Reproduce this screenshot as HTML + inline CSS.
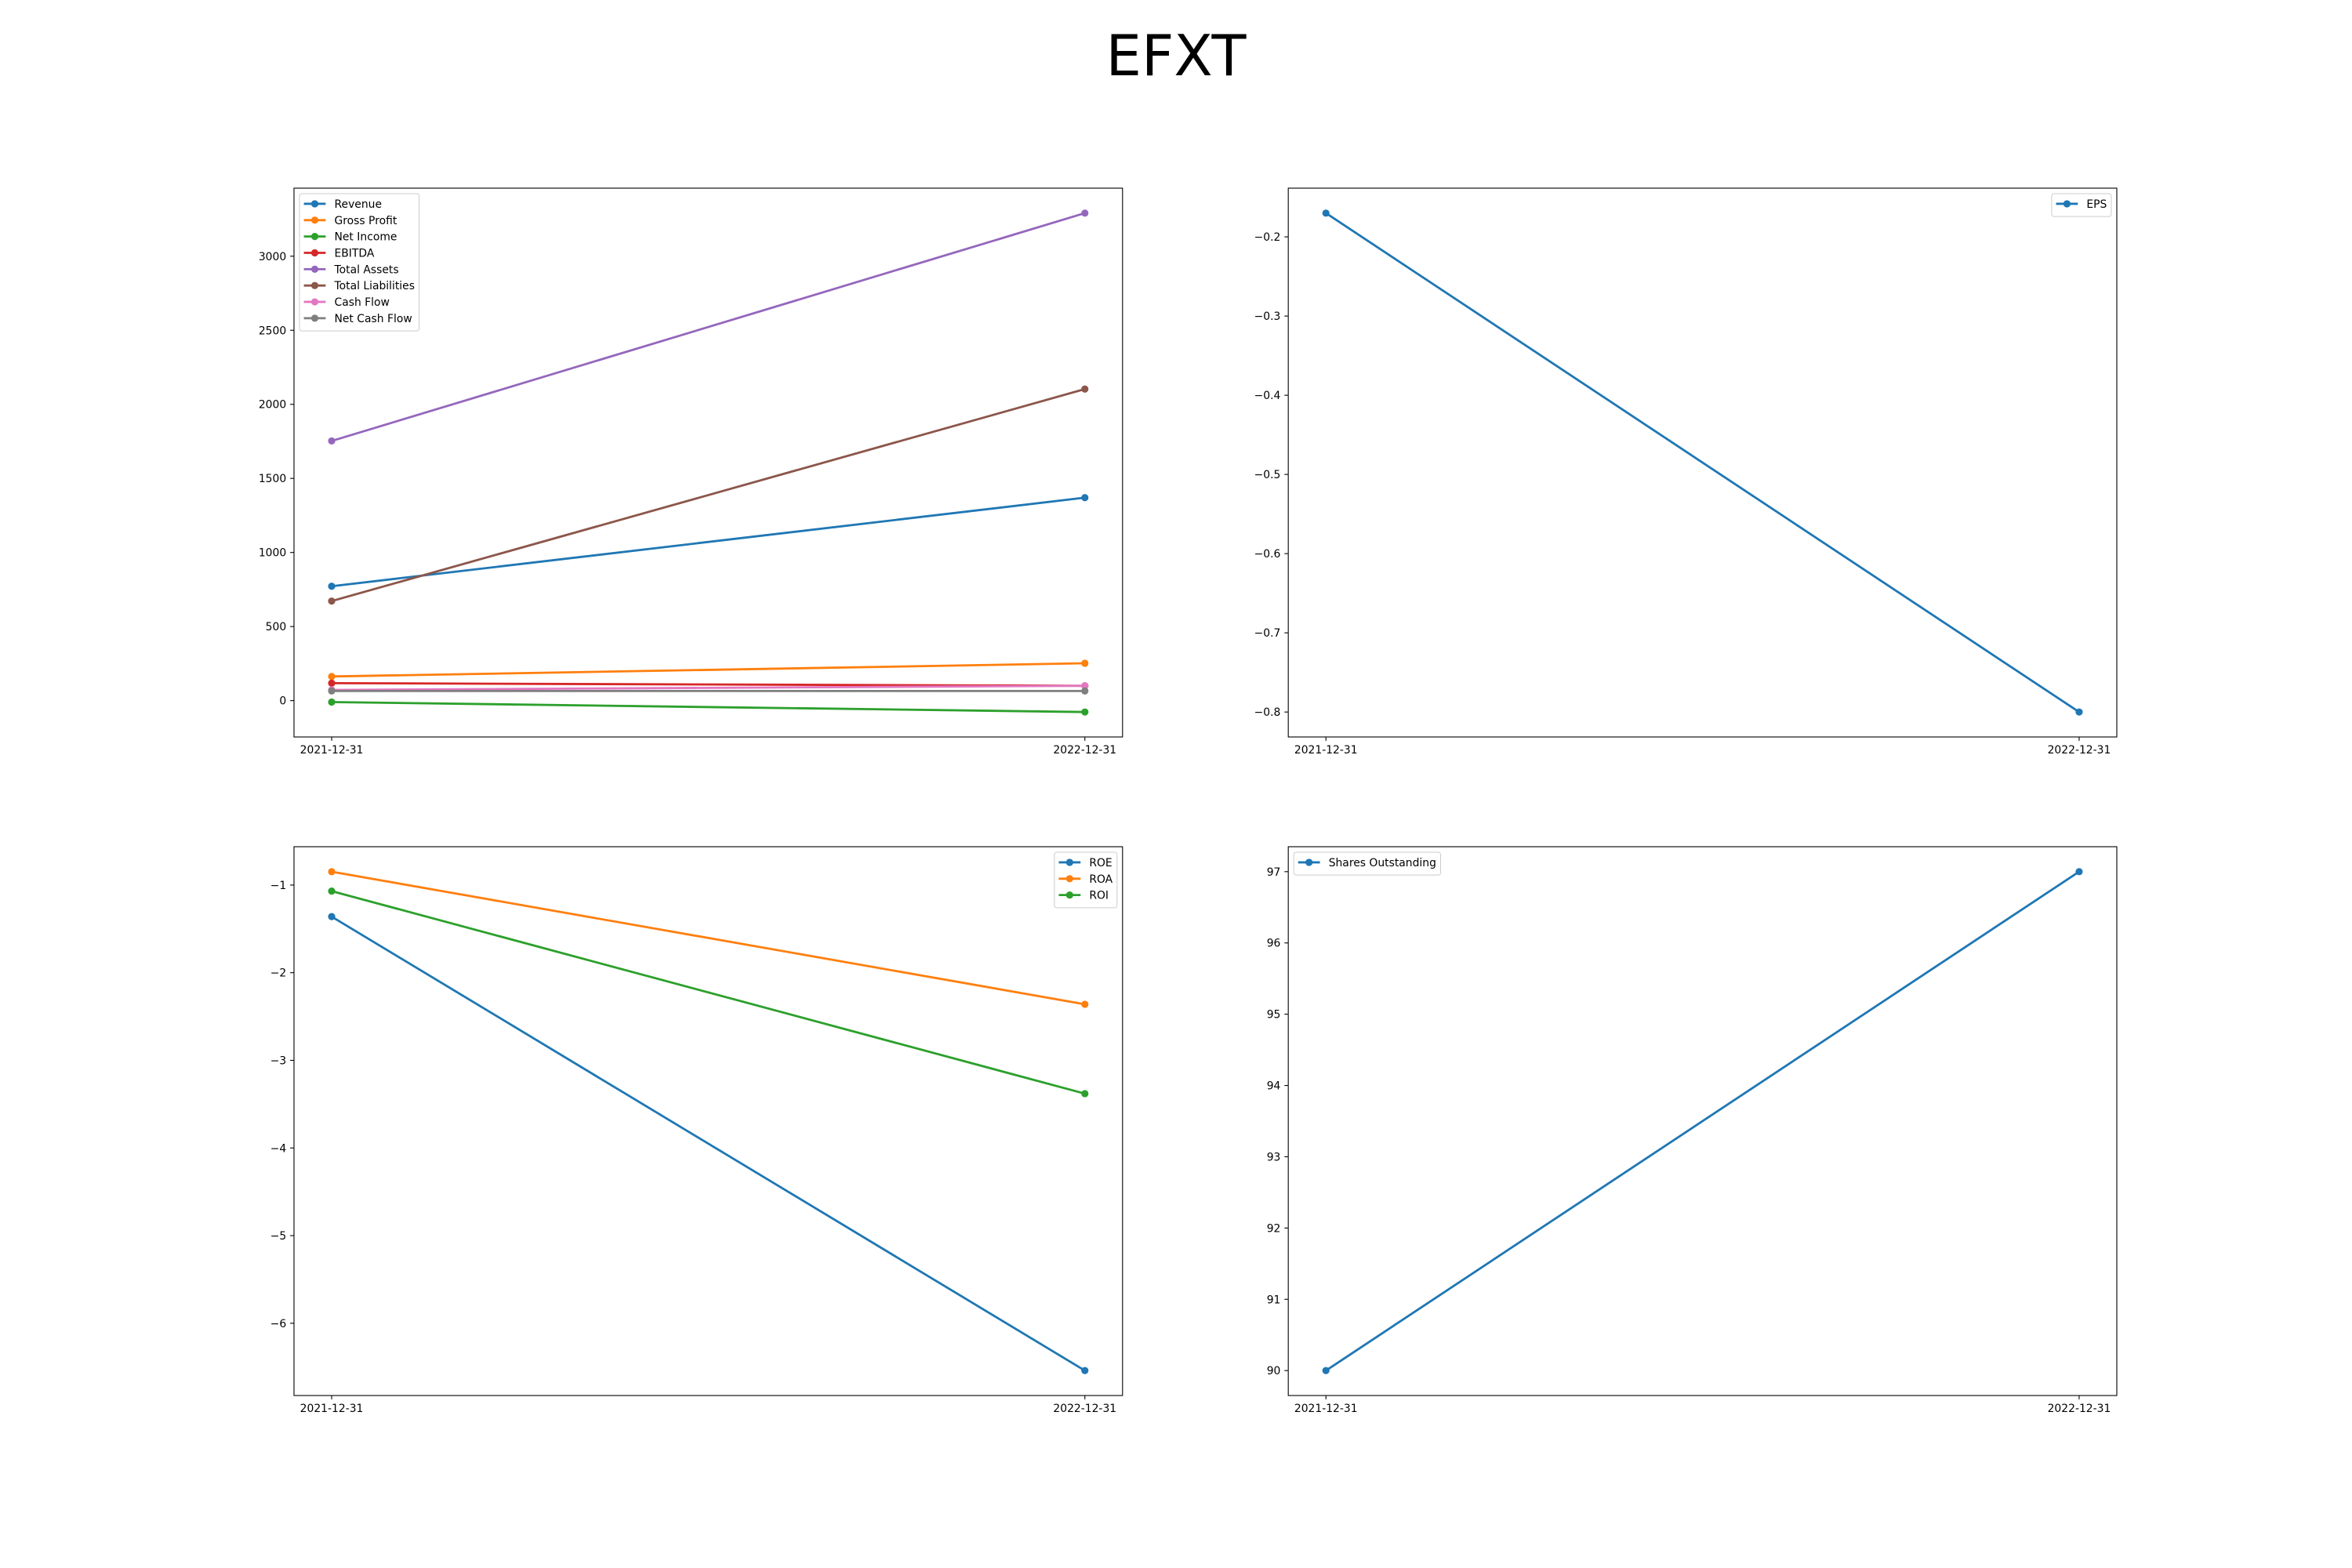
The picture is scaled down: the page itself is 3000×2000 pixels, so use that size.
<!DOCTYPE html>
<html><head><meta charset="utf-8"><style>
html,body{margin:0;padding:0;background:#fff}
svg{display:block;font-family:"DejaVu Sans","Liberation Sans",sans-serif}
</style></head><body>
<svg id="fig" width="3000" height="2000" viewBox="0 0 3000 2000" xmlns="http://www.w3.org/2000/svg">
<rect width="3000" height="2000" fill="#fff"/>
<text x="1500" y="96" font-size="72" text-anchor="middle" fill="#000">EFXT</text>
</svg>
<script>
const dates = ["2021-12-31", "2022-12-31"];
const revenue = [772, 1370];
const grossProfit = [163, 252];
const netIncome = [-10, -77];
const ebitda = [118, 100];
const totalAssets = [1753, 3291];
const totalLiabilities = [672, 2103];
const cashFlow = [72, 100];
const netCashFlow = [65, 65];
const eps = [-0.17, -0.80];
const roe = [-1.36, -6.54];
const roa = [-0.847, -2.36];
const roi = [-1.069, -3.38];
const shares = [90, 97];
const ticksTL = [0, 500, 1000, 1500, 2000, 2500, 3000];
const ticksTR = [-0.8, -0.7, -0.6, -0.5, -0.4, -0.3, -0.2];
const ticksBL = [-6, -5, -4, -3, -2, -1];
const ticksBR = [90, 91, 92, 93, 94, 95, 96, 97];

const NS = "http://www.w3.org/2000/svg";
const svg = document.getElementById("fig");
function mk(tag, attrs, parent) {
  const e = document.createElementNS(NS, tag);
  for (const k in attrs) e.setAttribute(k, attrs[k]);
  (parent || svg).appendChild(e);
  return e;
}
function fmt(v) {
  let s = (Math.abs(v) < 1e-9 ? 0 : v).toString();
  return s.replace("-", "\u2212");
}
function panel(name, box, series, ticks, legendPos) {
  const g = mk("g", {});
  
  
  let all = [];
  series.forEach(s => all = all.concat(s.v));
  const mn = Math.min(...all), mx = Math.max(...all);
  const pad = (mx - mn) * 0.05;
  const y0 = mn - pad, y1 = mx + pad;
  const n = dates.length;
  const xs = i => box.x + box.w * ((i + 0.05 * (n - 1)) / ((n - 1) * 1.1));
  const ys = v => box.y + box.h * (y1 - v) / (y1 - y0);
  ticks.forEach(t => {
    const y = ys(t);
    const l = mk("line", {x1: box.x - 4.9, x2: box.x, y1: y, y2: y, stroke: "#000", "stroke-width": 1.1}, g);
    
    
    const tx = mk("text", {x: box.x - 9.8, y: y + 5, "font-size": 13.9, "text-anchor": "end", fill: "#000"}, g);
    tx.textContent = fmt(t);
    
    
  });
  dates.forEach((d, i) => {
    const x = xs(i);
    const l = mk("line", {x1: x, x2: x, y1: box.y + box.h, y2: box.y + box.h + 4.9, stroke: "#000", "stroke-width": 1.1}, g);
    
    
    const tx = mk("text", {x: x, y: box.y + box.h + 21, "font-size": 13.9, "text-anchor": "middle", fill: "#000"}, g);
    tx.textContent = d;
    
    
  });
  series.forEach(s => {
    const pts = s.v.map((v, i) => xs(i) + "," + ys(v)).join(" ");
    const pl = mk("polyline", {points: pts, fill: "none", stroke: s.c, "stroke-width": 2.8}, g);
    
    
    s.v.forEach((v, i) => {
      const c = mk("circle", {cx: xs(i), cy: ys(v), r: 4.6, fill: s.c}, g);
      
      
    });
  });
  const fr = mk("rect", {x: box.x, y: box.y, width: box.w, height: box.h, fill: "none", stroke: "#000", "stroke-width": 1.1}, g);
  
  
  const fs = 13.9, rowH = 20.85;
  let maxW = 0;
  const tmp = mk("text", {"font-size": fs}, g);
  series.forEach(s => { tmp.textContent = s.n; maxW = Math.max(maxW, tmp.getComputedTextLength()); });
  g.removeChild(tmp);
  const lw = 5.6 + 27.8 + 11.1 + maxW + 5.6;
  const lh = 5.6 * 2 + series.length * rowH - (rowH - fs * 1.15) + 2;
  const lx = legendPos === "left" ? box.x + 7 : box.x + box.w - 7 - lw;
  const ly = box.y + 7;
  const lg = mk("g", {}, g);
  
  
  mk("rect", {x: lx, y: ly, width: lw, height: lh, rx: 3, fill: "#fff", "fill-opacity": 0.8, stroke: "#ccc", "stroke-width": 1}, lg);
  series.forEach((s, i) => {
    const cy = ly + 5.6 + fs * 0.6 + i * rowH - 1;
    const e = mk("g", {}, lg);
    
    
    mk("line", {x1: lx + 5.6, x2: lx + 33.4, y1: cy, y2: cy, stroke: s.c, "stroke-width": 2.8}, e);
    mk("circle", {cx: lx + 19.5, cy: cy, r: 4.6, fill: s.c}, e);
    const t = mk("text", {x: lx + 44.5, y: cy + 5, "font-size": fs, fill: "#000"}, e);
    t.textContent = s.n;
  });
}
const W = 1056.8, H = 700;
panel("financials-panel", {x: 375, y: 240, w: W, h: H}, [
  {id: "revenue", n: "Revenue", v: revenue, c: "#1f77b4"},
  {id: "gross-profit", n: "Gross Profit", v: grossProfit, c: "#ff7f0e"},
  {id: "net-income", n: "Net Income", v: netIncome, c: "#2ca02c"},
  {id: "ebitda", n: "EBITDA", v: ebitda, c: "#d62728"},
  {id: "total-assets", n: "Total Assets", v: totalAssets, c: "#9467bd"},
  {id: "total-liabilities", n: "Total Liabilities", v: totalLiabilities, c: "#8c564b"},
  {id: "cash-flow", n: "Cash Flow", v: cashFlow, c: "#e377c2"},
  {id: "net-cash-flow", n: "Net Cash Flow", v: netCashFlow, c: "#7f7f7f"}
], ticksTL, "left");
panel("eps-panel", {x: 1643.2, y: 240, w: W, h: H}, [
  {id: "eps", n: "EPS", v: eps, c: "#1f77b4"}
], ticksTR, "right");
panel("returns-panel", {x: 375, y: 1080, w: W, h: H}, [
  {id: "roe", n: "ROE", v: roe, c: "#1f77b4"},
  {id: "roa", n: "ROA", v: roa, c: "#ff7f0e"},
  {id: "roi", n: "ROI", v: roi, c: "#2ca02c"}
], ticksBL, "right");
panel("shares-panel", {x: 1643.2, y: 1080, w: W, h: H}, [
  {id: "shares-outstanding", n: "Shares Outstanding", v: shares, c: "#1f77b4"}
], ticksBR, "left");
</script>
</body></html>
